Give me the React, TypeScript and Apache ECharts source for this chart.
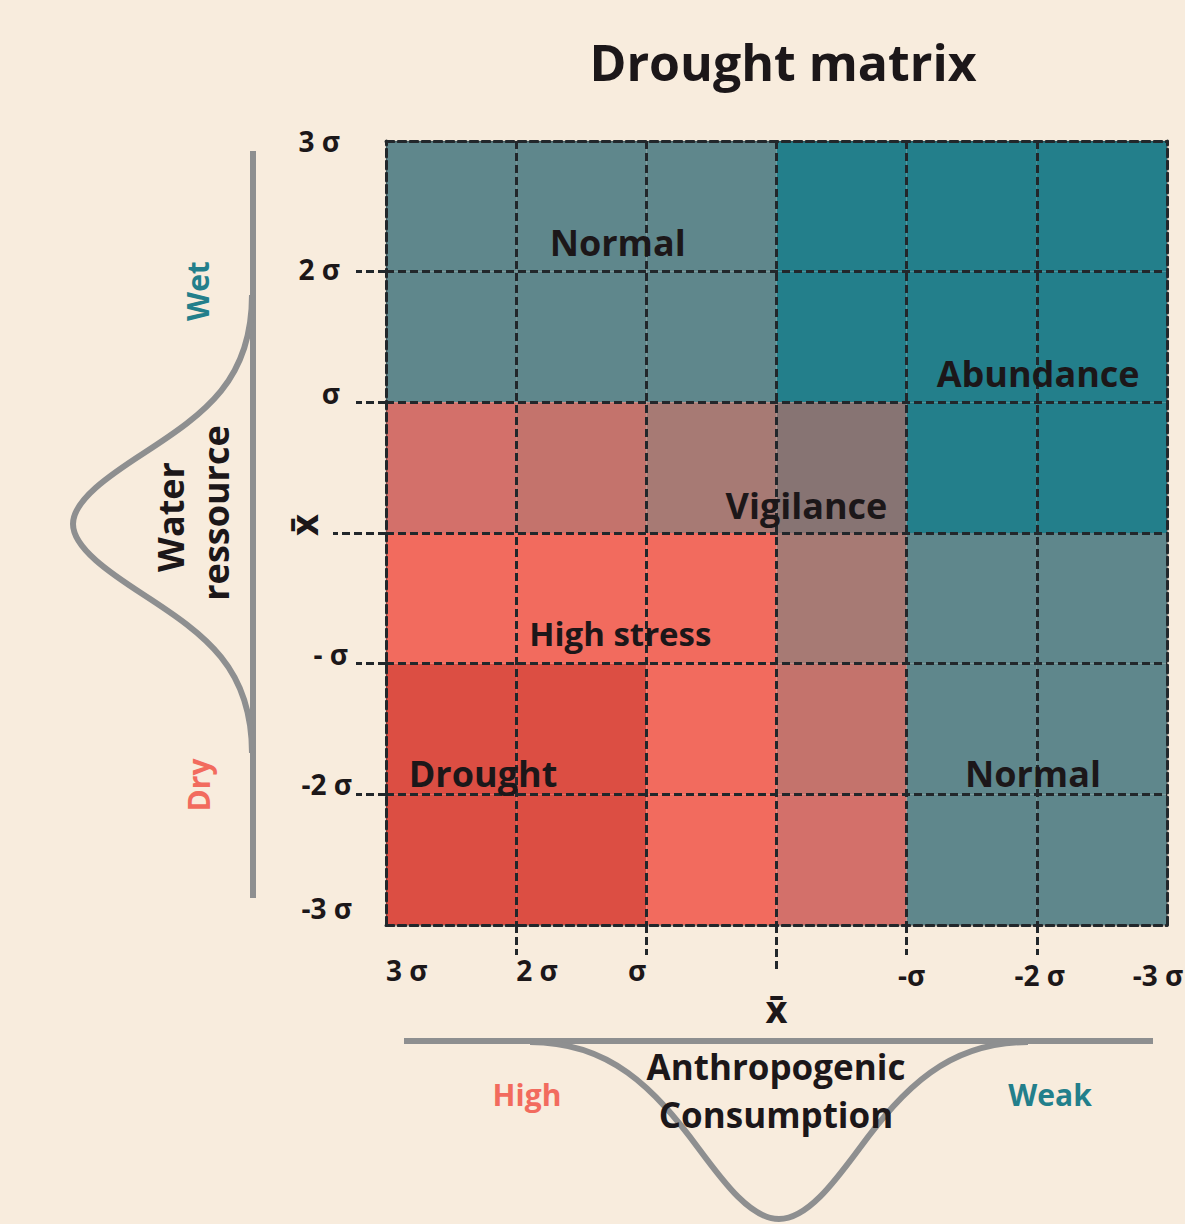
import React, { useEffect, useRef } from "react";
import * as echarts from "echarts";

// ---------- data ----------
const xTickLabels = ["3 σ", "2 σ", "σ", "x\u0304", "-σ", "-2 σ", "-3 σ"];
const yTickLabels = ["-3 σ", "-2 σ", "- σ", "x\u0304", "σ", "2 σ", "3 σ"];

// zone classes used by the cells
const zoneNames = ["Normal", "Abundance", "High stress", "Drought", "Vigilance 1", "Vigilance 2", "Vigilance 3", "Vigilance 4"];
const zoneColors = ["#5f878c", "#237f8b", "#f26b5e", "#dc4e43", "#d3706a", "#c4736c", "#a77a74", "#877473"];

// rows from top (3σ) to bottom (-3σ), columns from left (3σ) to right (-3σ)
const matrixRows = [
  [0, 0, 0, 1, 1, 1],
  [0, 0, 0, 1, 1, 1],
  [4, 5, 6, 7, 1, 1],
  [2, 2, 2, 6, 0, 0],
  [3, 3, 2, 5, 0, 0],
  [3, 3, 2, 4, 0, 0],
];

const labelNames = ["Normal", "Abundance", "Vigilance", "High stress", "Drought", "Normal"];
const labelX = [1.78, 5.01, 3.23, 1.8, 0.745, 4.97];
const labelY = [5.22, 4.22, 3.21, 2.23, 1.16, 1.16];

// ---------- styles ----------
const FONT = "'Open Sans', 'Noto Sans', 'DejaVu Sans', sans-serif";
const INK = "#1c1719";
const DASH = "#22272b";
const CURVE = "#8e8f90";
const BG = "#f8ecdd";
const TEAL = "#237f8b";
const SALMON = "#f26b5e";
const dashStyle = { color: DASH, width: 3, type: [8, 4] as number[] };

const bellLeftPath =
  "M252,295 C252,380 205.6,413 144,453 C110,475 73,500 73,524 C73,548 110,573 144,595 C205.6,635 252,668 252,753";
const bellBottomPath =
  "M530,1042 C610,1042 654,1088 699,1149 C724,1182.75 751,1219 779,1219 C807,1219 834,1182.75 859,1149 C904,1088 948,1042 1028,1042";

echarts.graphic.registerShape("bellLeft", echarts.graphic.extendPath(bellLeftPath, {}));
echarts.graphic.registerShape("bellBottom", echarts.graphic.extendPath(bellBottomPath, {}));

function buildOption() {
  const cells: number[][] = [];
  matrixRows.forEach((row, r) => {
    row.forEach((z, c) => {
      cells.push([c, 5 - r, z]);
    });
  });

  const labelData = labelNames.map((n, i) => ({ value: [labelX[i], labelY[i]], name: n }));

  const tickFont = { fontFamily: FONT, fontWeight: "bold" as const, fontSize: 28, color: INK };

  // per-label nudges for y labels (padding [t, r, b, l])
  const yPad: Record<number, number[]> = {
    0: [0, 0, 34, 0],
    1: [0, 0, 20, 0],
    2: [0, 4, 20, 0],
    4: [0, 12, 18, 0],
    5: [0, 12, 6, 0],
    6: [0, 12, 0, 0],
  };
  const yRich: Record<string, any> = {};
  Object.keys(yPad).forEach((k) => {
    yRich["y" + k] = { ...tickFont, padding: yPad[Number(k)] };
  });
  // nudges for the right-hand x labels
  const xPad: Record<number, number[]> = {
    4: [0, 0, 0, 10],
    5: [0, 0, 0, 6],
    6: [0, 18, 0, 0],
  };
  const xRich: Record<string, any> = {};
  Object.keys(xPad).forEach((k) => {
    xRich["x" + k] = { ...tickFont, padding: xPad[Number(k)] };
  });

  const hidden = {
    axisLine: { show: false },
    splitLine: { show: false },
    axisTick: { show: false },
    axisLabel: { show: false },
  };
  const baseX = {
    type: "value",
    min: 0,
    max: 6,
    interval: 1,
    position: "bottom",
    gridIndex: 0,
    ...hidden,
  };
  const baseY = {
    type: "value",
    min: 0,
    max: 6,
    interval: 1,
    position: "left",
    gridIndex: 0,
    ...hidden,
  };

  return {
    animation: false,
    backgroundColor: BG,
    title: {
      text: "Drought matrix",
      left: 778,
      top: 32,
      textAlign: "center",
      textStyle: { fontFamily: FONT, fontWeight: "bold", fontSize: 50, color: INK },
    },
    grid: { left: 386, top: 141, width: 781, height: 784, containLabel: false, outerBoundsMode: "none" },
    xAxis: [
      {
        ...baseX,
        z: 5,
        axisLine: { show: true, onZero: false, lineStyle: dashStyle },
        splitLine: { show: true, lineStyle: dashStyle },
        axisTick: { show: true, customValues: [1, 2, 4, 5], length: 30, lineStyle: dashStyle },
        axisLabel: {
          show: true,
          customValues: [0, 1],
          align: "left",
          margin: 31,
          ...tickFont,
          formatter: (v: number) => xTickLabels[v],
        },
      },
      {
        ...baseX,
        axisLabel: {
          show: true,
          customValues: [2],
          align: "right",
          margin: 31,
          ...tickFont,
          formatter: (v: number) => xTickLabels[v],
        },
      },
      {
        ...baseX,
        axisLabel: {
          show: true,
          customValues: [4, 5, 6],
          align: "center",
          margin: 36,
          ...tickFont,
          formatter: (v: number) => `{x${v}|${xTickLabels[v]}}`,
          rich: xRich,
        },
      },
      {
        ...baseX,
        z: 5,
        splitLine: { show: true, lineStyle: dashStyle },
        axisTick: { show: true, customValues: [3], length: 45, lineStyle: dashStyle },
        axisLabel: {
          show: true,
          customValues: [3],
          align: "center",
          margin: 64,
          ...tickFont,
          fontSize: 38,
          formatter: (v: number) => xTickLabels[v],
        },
      },
      {
        ...baseX,
        position: "top",
        z: 5,
        axisLine: { show: true, onZero: false, lineStyle: dashStyle },
      },
    ],
    yAxis: [
      {
        ...baseY,
        z: 5,
        axisLine: { show: true, onZero: false, lineStyle: dashStyle },
        splitLine: { show: true, lineStyle: dashStyle },
        axisTick: { show: true, customValues: [1, 2, 4, 5], length: 30, lineStyle: dashStyle },
        axisLabel: {
          show: true,
          customValues: [0, 1, 2, 4, 5, 6],
          margin: 34,
          ...tickFont,
          formatter: (v: number) => `{y${v}|${yTickLabels[v]}}`,
          rich: yRich,
        },
      },
      {
        ...baseY,
        z: 5,
        axisLine: { show: false, onZero: false },
        splitLine: { show: true, lineStyle: dashStyle },
        axisTick: { show: true, customValues: [3], length: 53, lineStyle: dashStyle },
      },
      {
        ...baseY,
        position: "right",
        z: 5,
        axisLine: { show: true, onZero: false, lineStyle: dashStyle },
      },
    ],
    series: [
      {
        type: "custom",
        name: "cells",
        xAxisIndex: 0,
        yAxisIndex: 0,
        z: 2,
        silent: true,
        encode: { x: 0, y: 1 },
        data: cells,
        renderItem: (params: any, api: any) => {
          const x = api.value(0);
          const y = api.value(1);
          const p0 = api.coord([x, y + 1]);
          const p1 = api.coord([x + 1, y]);
          return {
            type: "rect",
            shape: { x: p0[0], y: p0[1], width: p1[0] - p0[0], height: p1[1] - p0[1] },
            style: { fill: zoneColors[api.value(2)] },
          };
        },
      },
      {
        type: "custom",
        name: "zones",
        xAxisIndex: 0,
        yAxisIndex: 0,
        z: 10,
        silent: true,
        encode: { x: 0, y: 1 },
        data: labelData,
        renderItem: (params: any, api: any) => {
          const p = api.coord([api.value(0), api.value(1)]);
          const name = labelData[params.dataIndex].name;
          return {
            type: "text",
            x: p[0],
            y: p[1],
            style: {
              text: name,
              fontFamily: FONT,
              fontWeight: "bold",
              fontSize: name === "High stress" ? 33 : 36,
              fill: INK,
              align: "center",
              verticalAlign: "middle",
            },
          };
        },
      },
    ],
    graphic: [
      { type: "line", z: 1, shape: { x1: 253, y1: 151, x2: 253, y2: 898 }, style: { stroke: CURVE, lineWidth: 6 } },
      { type: "bellLeft", z: 1, x: 0, y: 0, style: { stroke: CURVE, lineWidth: 6, fill: "none" } },
      { type: "line", z: 1, shape: { x1: 404, y1: 1041, x2: 1153, y2: 1041 }, style: { stroke: CURVE, lineWidth: 6 } },
      { type: "bellBottom", z: 1, x: 0, y: 0, style: { stroke: CURVE, lineWidth: 6, fill: "none" } },
      {
        type: "text", z: 10, x: 197, y: 291, rotation: Math.PI / 2,
        style: { text: "Wet", fontFamily: FONT, fontWeight: "bold", fontSize: 30, fill: TEAL, align: "center", verticalAlign: "middle" },
      },
      {
        type: "text", z: 10, x: 198, y: 785, rotation: Math.PI / 2,
        style: { text: "Dry", fontFamily: FONT, fontWeight: "bold", fontSize: 30, fill: SALMON, align: "center", verticalAlign: "middle" },
      },
      {
        type: "text", z: 10, x: 170, y: 517, rotation: Math.PI / 2,
        style: { text: "Water", fontFamily: FONT, fontWeight: "bold", fontSize: 36, fill: INK, align: "center", verticalAlign: "middle" },
      },
      {
        type: "text", z: 10, x: 215, y: 513, rotation: Math.PI / 2,
        style: { text: "ressource", fontFamily: FONT, fontWeight: "bold", fontSize: 36, fill: INK, align: "center", verticalAlign: "middle" },
      },
      {
        type: "text", z: 10, x: 303, y: 525, rotation: Math.PI / 2,
        style: { text: yTickLabels[3], fontFamily: FONT, fontWeight: "bold", fontSize: 38, fill: INK, align: "center", verticalAlign: "middle" },
      },
      {
        type: "text", z: 10, x: 527, y: 1094,
        style: { text: "High", fontFamily: FONT, fontWeight: "bold", fontSize: 30, fill: SALMON, align: "center", verticalAlign: "middle" },
      },
      {
        type: "text", z: 10, x: 1050, y: 1094,
        style: { text: "Weak", fontFamily: FONT, fontWeight: "bold", fontSize: 30, fill: TEAL, align: "center", verticalAlign: "middle" },
      },
      {
        type: "text", z: 10, x: 776, y: 1066,
        style: { text: "Anthropogenic", fontFamily: FONT, fontWeight: "bold", fontSize: 35, fill: INK, align: "center", verticalAlign: "middle" },
      },
      {
        type: "text", z: 10, x: 776, y: 1114,
        style: { text: "Consumption", fontFamily: FONT, fontWeight: "bold", fontSize: 35, fill: INK, align: "center", verticalAlign: "middle" },
      },
    ],
  };
}

export default function App() {
  const ref = useRef<HTMLDivElement>(null);
  useEffect(() => {
    if (!ref.current) return;
    const chart = echarts.init(ref.current, undefined, { renderer: "svg" });
    chart.setOption(buildOption() as any);
    return () => chart.dispose();
  }, []);
  return (
    <div
      ref={ref}
      style={{ position: "absolute", left: 0, top: 0, width: 1185, height: 1224, background: BG }}
    />
  );
}
